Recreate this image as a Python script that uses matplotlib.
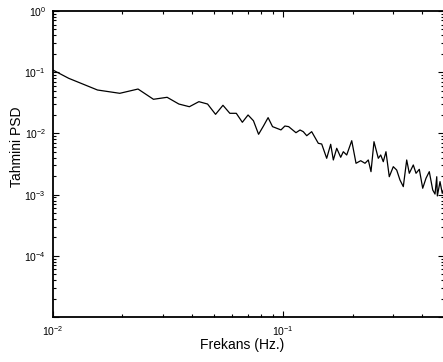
import numpy as np
import matplotlib
matplotlib.use('Agg')
import matplotlib.pyplot as plt
from matplotlib.ticker import LogLocator, NullFormatter

plt.rcParams['font.family'] = ['Liberation Sans', 'DejaVu Sans']
plt.rcParams['mathtext.fontset'] = 'custom'
plt.rcParams['mathtext.rm'] = 'Liberation Sans'

# frequency (Hz) and estimated PSD
freq = [0.0078, 0.0117, 0.0156, 0.0195, 0.0234, 0.0273, 0.0313, 0.0352,
        0.0391, 0.0430, 0.0469, 0.0508, 0.0547, 0.0586, 0.0625, 0.0664,
        0.0703, 0.0742, 0.0781, 0.0820, 0.0859, 0.0898, 0.0938, 0.0977,
        0.1016, 0.1055, 0.1135, 0.1182, 0.1221, 0.1264, 0.1328, 0.1419,
        0.1468, 0.1543, 0.1606, 0.1649, 0.1706, 0.1775, 0.1822, 0.1885,
        0.1982, 0.2069, 0.2168, 0.2263, 0.2339, 0.2403, 0.2476, 0.2585,
        0.2648, 0.2717, 0.2791, 0.2885, 0.3003, 0.3107, 0.3211, 0.3319,
        0.3434, 0.3524, 0.3668, 0.3769, 0.3895, 0.4030, 0.4165, 0.4304,
        0.4454, 0.4558, 0.4637, 0.4665, 0.4791, 0.4900, 0.5000]
psd = [0.177, 0.0795, 0.0512, 0.0452, 0.0531, 0.0361, 0.0389, 0.0302,
       0.0273, 0.0330, 0.0302, 0.0205, 0.0288, 0.0213, 0.0213, 0.0152,
       0.0200, 0.0161, 0.00967, 0.0132, 0.0181, 0.0129, 0.0121, 0.0114,
       0.0132, 0.0129, 0.01027, 0.01137, 0.01067, 0.00917, 0.01067, 0.00689,
       0.00671, 0.00392, 0.00664, 0.00368, 0.00571, 0.00407, 0.00502, 0.00444,
       0.00760, 0.00325, 0.00358, 0.00325, 0.00368, 0.00237, 0.00732, 0.00392,
       0.00444, 0.00345, 0.00502, 0.00196, 0.00286, 0.00252, 0.00173, 0.00135,
       0.00368, 0.00223, 0.00305, 0.00223, 0.00259, 0.00127, 0.00185, 0.00237,
       0.00119, 0.00102, 0.00196, 0.00095, 0.00163, 0.00105, 0.00130]

yticks = [1e-5, 1e-4, 1e-3, 1e-2, 1e-1, 1]
ylabels = ['', r'$10^{-4}$', r'$10^{-3}$', r'$10^{-2}$', r'$10^{-1}$', r'$10^{0}$']
xticks = [0.01, 0.1]
xlabels = [r'$10^{-2}$', r'$10^{-1}$']

fig = plt.figure(figsize=(4.43, 3.62), dpi=100)
ax = fig.add_axes([0.1196, 0.1243, 0.8833, 0.8453])

ax.loglog(freq, psd, color='black', lw=0.9)
ax.set_xlim(0.01, 0.5)
ax.set_ylim(1e-5, 1)

ax.set_yticks(yticks, ylabels)
ax.set_xticks(xticks, xlabels)
ax.yaxis.set_minor_locator(LogLocator(base=10, subs=np.arange(2, 10), numticks=20))
ax.xaxis.set_minor_locator(LogLocator(base=10, subs=np.arange(2, 10), numticks=20))
ax.xaxis.set_minor_formatter(NullFormatter())
ax.yaxis.set_minor_formatter(NullFormatter())
ax.set_xlim(0.01, 0.5)
ax.set_ylim(1e-5, 1)

ax.tick_params(which='both', direction='in', top=True, right=True,
               labelsize=7.5, width=0.8)
ax.tick_params(which='major', length=4, pad=5)
ax.tick_params(which='minor', length=2.2)
for s in ax.spines.values():
    s.set_linewidth(1.3)

ax.set_xlabel('Frekans (Hz.)', fontsize=10)
ax.set_ylabel('Tahmini PSD', fontsize=10)
ax.xaxis.set_label_coords(0.484, -0.0915)
ax.xaxis.label.set_va('center')
ax.yaxis.set_label_coords(-0.092, 0.557)
ax.yaxis.label.set_va('center')

fig.savefig('out.png', dpi=100)
